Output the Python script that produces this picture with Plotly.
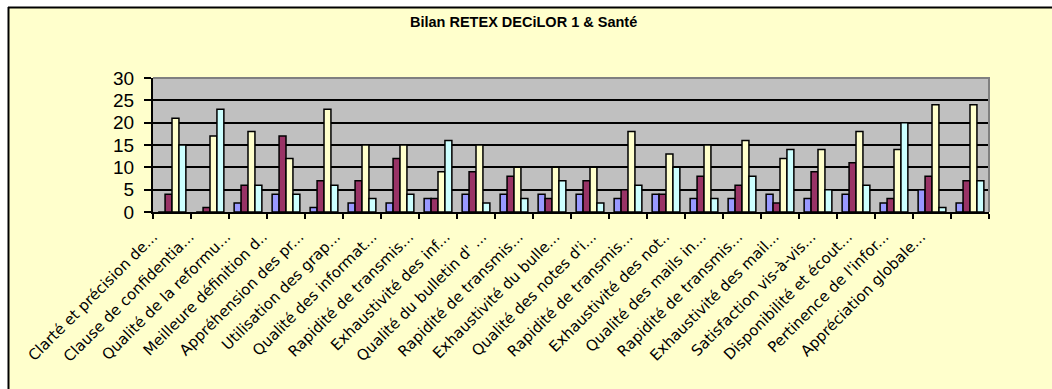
import plotly.graph_objects as go

# Survey questions (labels as truncated on the axis)
categories = [
    "Clarté et précision de...",
    "Clause de confidentia...",
    "Qualité de la reformu...",
    "Meilleure définition d..",
    "Appréhension des pr...",
    "Utilisation des grap...",
    "Qualité des informat...",
    "Rapidité de transmis...",
    "Exhaustivité des inf...",
    "Qualité du bulletin d' ...",
    "Rapidité de transmis...",
    "Exhaustivité du bulle...",
    "Qualité des notes d'i...",
    "Rapidité de transmis...",
    "Exhaustivité des not..",
    "Qualité des mails in...",
    "Rapidité de transmis...",
    "Exhaustivité des mail...",
    "Satisfaction vis-à-vis...",
    "Disponibilité et écout...",
    "Pertinence de l'infor...",
    "Appréciation globale...",
]

# Answer counts per rating level
series_1 = [0, 0, 2, 4, 1, 2, 2, 3, 4, 4, 4, 4, 3, 4, 3, 3, 4, 3, 4, 2, 5, 2]
series_2 = [4, 1, 6, 17, 7, 7, 12, 3, 9, 8, 3, 7, 5, 4, 8, 6, 2, 9, 11, 3, 8, 7]
series_3 = [21, 17, 18, 12, 23, 15, 15, 9, 15, 10, 10, 10, 18, 13, 15, 16, 12, 14, 18, 14, 24, 24]
series_4 = [15, 23, 6, 4, 6, 3, 4, 16, 2, 3, 7, 2, 6, 10, 3, 8, 14, 5, 6, 20, 1, 7]

y_ticks = [0, 5, 10, 15, 20, 25, 30]

colors = ["#9999FF", "#993366", "#FFFFCC", "#CCFFFF"]

W, H = 1052, 389
L, R, T, B = 153, 63, 78, 177
pw, ph = W - L - R, H - T - B


def px_x(p):
    return (p - L) / pw


def px_y(q):
    return (H - B - q) / ph


positions = list(range(len(categories)))
n = len(categories)

# category labels sit on their own, slightly tighter, overlaid axis
label_step = 36.57
label_left = -(153 - L) / label_step
label_range = [label_left, label_left + pw / label_step]

fig = go.Figure()
for vals, col in zip([series_1, series_2, series_3, series_4], colors):
    fig.add_trace(go.Bar(
        x=positions, y=vals,
        marker=dict(color=col, line=dict(color="black", width=1.5)),
        showlegend=False,
    ))
# carrier for the label axis (draws nothing)
fig.add_trace(go.Scatter(x=positions, y=[None] * n, xaxis="x2", yaxis="y",
                         mode="markers", showlegend=False, hoverinfo="skip"))

fig.update_layout(
    width=W, height=H,
    margin=dict(l=L, r=R, t=T, b=B),
    paper_bgcolor="#FFFFCC",
    plot_bgcolor="#C0C0C0",
    barmode="group",
    bargap=0.27,
    bargroupgap=0,
    font=dict(family="Liberation Sans, Arial", color="black"),
    xaxis=dict(
        range=[-0.5, n - 0.5],
        showticklabels=False,
        ticks="",
        showgrid=False,
        zeroline=False,
        showline=True, linecolor="black", linewidth=2,
        minor=dict(tickmode="linear", tick0=-0.5, dtick=1, ticks="outside",
                   ticklen=5, tickcolor="black", tickwidth=1.5, showgrid=False),
    ),
    xaxis2=dict(
        overlaying="x", anchor="y", side="bottom",
        range=label_range,
        tickmode="array",
        tickvals=positions,
        ticktext=categories,
        tickangle=-45,
        ticks="",
        ticklabelstandoff=12,
        tickfont=dict(family="DejaVu Sans", size=15, color="black"),
        showgrid=False, zeroline=False, showline=False,
    ),
    yaxis=dict(
        range=[0, 30],
        tickmode="array",
        tickvals=y_ticks,
        ticks="outside", ticklen=7, tickcolor="black", tickwidth=1.5,
        tickfont=dict(family="Liberation Sans, Arial", size=19, color="black"),
        ticklabelstandoff=6,
        showgrid=True, gridcolor="black", gridwidth=1.5,
        zeroline=False,
        showline=True, linecolor="black", linewidth=2,
    ),
    shapes=[
        # grey frame on top and right of the plot area
        dict(type="path", xref="paper", yref="paper", path="M 0,1 L 1,1 L 1,0",
             line=dict(color="#808080", width=2), layer="above"),
        # white surround and black chart border
        dict(type="rect", xref="paper", yref="paper",
             x0=px_x(-20), x1=px_x(W + 20), y0=px_y(7), y1=px_y(-20),
             fillcolor="white", line=dict(width=0), layer="above"),
        dict(type="rect", xref="paper", yref="paper",
             x0=px_x(-20), x1=px_x(8), y0=px_y(H + 20), y1=px_y(-20),
             fillcolor="white", line=dict(width=0), layer="above"),
        dict(type="line", xref="paper", yref="paper",
             x0=px_x(8), x1=px_x(W + 20), y0=px_y(7.5), y1=px_y(7.5),
             line=dict(color="black", width=2), layer="above"),
        dict(type="line", xref="paper", yref="paper",
             x0=px_x(8.5), x1=px_x(8.5), y0=px_y(7), y1=px_y(H + 20),
             line=dict(color="black", width=2), layer="above"),
    ],
    annotations=[
        dict(text="<b>Bilan RETEX DECiLOR 1 & Santé</b>", xref="paper", yref="paper",
             x=px_x(523), y=px_y(22), xanchor="center", yanchor="middle",
             showarrow=False, font=dict(family="Liberation Sans, Arial", size=14.5, color="black")),
    ],
)

fig.write_html("out.html")
